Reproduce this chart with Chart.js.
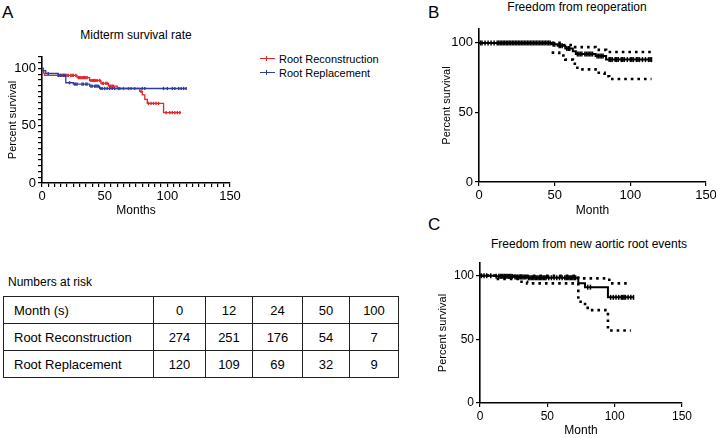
<!DOCTYPE html>
<html><head><meta charset="utf-8">
<script src="https://cdn.jsdelivr.net/npm/chart.js@4"></script>
<style>
body{margin:0;background:#fff;width:716px;height:438px;position:relative;overflow:hidden;font-family:"Liberation Sans",Arial,sans-serif;color:#000}
.t{position:absolute;white-space:nowrap;line-height:1}
canvas{position:absolute}
#risk{position:absolute;left:3px;top:296px;border-collapse:collapse;table-layout:fixed;font-size:13px}
#risk td{border:1px solid #222;height:26px;padding:0;text-align:center;white-space:nowrap}
#risk td:first-child{text-align:left;padding-left:10px}
.lg{position:absolute;height:14px;width:130px;font-size:11px;line-height:14px;white-space:nowrap}
.lg i{position:absolute;left:0;top:6px;width:15px;height:0;border-top:1.5px solid}
.lg b{position:absolute;left:6px;top:4px;width:0;height:5px;border-left:1.5px solid}
.lg span{position:absolute;left:19px;top:0;color:#000}
</style></head><body>
<div class="t" style="left:2px;top:4px;font-size:17px">A</div>
<div class="t" style="left:428px;top:4px;font-size:17px">B</div>
<div class="t" style="left:428px;top:216px;font-size:17px">C</div>
<div class="t" style="left:36px;width:200px;text-align:center;top:29px;font-size:12px">Midterm survival rate</div>
<div class="t" style="left:477px;width:200px;text-align:center;top:1px;font-size:12px">Freedom from reoperation</div>
<div class="t" style="left:489px;width:200px;text-align:center;top:238px;font-size:12px">Freedom from new aortic root events</div>
<div class="lg" style="left:260px;top:52px;color:#e3262a"><i></i><b></b><span>Root Reconstruction</span></div>
<div class="lg" style="left:260px;top:66px;color:#2d3f9c"><i></i><b></b><span>Root Replacement</span></div>
<div class="t" style="left:8px;top:276px;font-size:12px">Numbers at risk</div>
<table id="risk"></table>
<canvas id="cA" width="245" height="222" style="left:0;top:0"></canvas>
<canvas id="cB" width="280" height="222" style="left:436px;top:0"></canvas>
<canvas id="cC" width="284" height="213" style="left:432px;top:225px"></canvas>
<script>
// ---------- Panel A: Midterm survival ----------
const reconTimes = [0, 1, 2, 28, 38, 47, 53, 60, 78, 80, 82, 84, 97, 111];
const reconSurv  = [100, 96, 94, 92, 89.5, 87, 84.5, 82.5, 80, 77, 73, 69.5, 61.5, 61.5];
const reconCensor = [13,14,15,16,17,18,19,20,21,23,24,25,27,29,30,31,32,33,34,35,36,39,40,41,42,43,44,46,48,49,51,52,54,55,56,57,61,62,65,69,71,74,79,85,87,89,91,93,99,102,104,106,108,110];
const replTimes = [0, 1, 3, 13, 19, 25, 38, 46, 115];
const replSurv  = [100, 98, 95.6, 94, 87.5, 86.3, 84.5, 82.5, 82.5];
const replCensor = [5,13,15,17,18,22,26,27,28,32,33,35,36,39,40,42,43,44,45,47,48,50,52,54,56,58,80,82,97,100,104,106,109,111,113,115];

// ---------- Panel B: Freedom from reoperation ----------
const reopTimes = [0, 48, 52, 57, 62, 64, 77, 84, 114];
const reopSurv  = [100, 99, 98, 96, 94, 92, 90.5, 88, 88];
const reopUpperTimes = [48, 56, 62, 77, 84, 114];
const reopUpperSurv  = [100, 98.5, 97, 95, 93.5, 93.5];
const reopLowerTimes = [48, 53, 57, 62, 65, 77, 83, 86, 114];
const reopLowerSurv  = [93, 91, 88, 85, 81, 78.5, 76, 74, 74];
const reopCensor = [1,2,4,6,8,10,12,13,14,15,16,17,18,19,20,21,22,23,24,25,26,27,28,29,30,31,32,33,34,35,36,37,38,39,40,41,42,43,44,45,46,47,49,50,53,54,55,58,59,60,65,66,67,68,70,71,72,73,74,75,78,79,80,81,82,86,87,88,90,91,92,94,95,96,98,100,101,102,104,105,106,108,110,112,113,114];

// ---------- Panel C: Freedom from new aortic root events ----------
const rootTimes = [0, 12, 25, 35, 73, 78, 95, 114];
const rootSurv  = [100, 99.5, 99, 98.4, 94, 91, 83, 83];
const rootUpperTimes = [0, 73, 96, 112];
const rootUpperSurv  = [100, 97.9, 94, 94];
const rootLowerTimes = [0, 12, 28, 35, 73, 78, 80, 95, 112];
const rootLowerSurv  = [100, 97.5, 95.3, 94, 79.5, 76, 73, 57, 57];
const rootCensor = [1,3,5,8,12,14,15,16,17,18,19,20,21,22,23,24,26,27,28,29,30,31,32,33,34,36,37,38,39,40,41,42,43,44,45,46,47,48,49,51,53,55,57,59,61,63,64,65,66,67,68,69,70,71,80,82,97,99,101,103,105,106,107,108,110,112,114];

// ---------- Numbers at risk ----------
const riskHeader = ['Month (s)', '0', '12', '24', '50', '100'];
const riskRecon  = ['Root Reconstruction', 274, 251, 176, 54, 7];
const riskRepl   = ['Root Replacement', 120, 109, 69, 32, 9];

const xMajor = [0, 50, 100, 150];
const yMajor = [0, 50, 100];

// table
(function(){
  const widths = [150, 52, 47, 50, 47, 49];
  const tb = document.getElementById('risk');
  const cg = document.createElement('colgroup');
  widths.forEach(w => { const c = document.createElement('col'); c.style.width = w + 'px'; cg.appendChild(c); });
  tb.appendChild(cg);
  [riskHeader, riskRecon, riskRepl].forEach(row => {
    const tr = document.createElement('tr');
    row.forEach(v => { const td = document.createElement('td'); td.textContent = v; tr.appendChild(td); });
    tb.appendChild(tr);
  });
})();

Chart.defaults.font.family = "'Liberation Sans', Arial, sans-serif";
Chart.defaults.color = '#000';

function stepAt(times, surv, t) { let v = surv[0]; for (let i = 0; i < times.length; i++) if (times[i] <= t) v = surv[i]; return v; }
function pts(times, surv) { return times.map((t, i) => ({x: t, y: surv[i]})); }
function cens(ct, times, surv) { return ct.map(t => ({x: t, y: stepAt(times, surv, t)})); }

function curve(times, surv, color, w) {
  return {data: pts(times, surv), stepped: 'before', borderColor: color, borderWidth: w, pointRadius: 0, fill: false};
}
function ci(times, surv) {
  return {data: pts(times, surv), stepped: 'before', borderColor: '#000', borderWidth: 2.6, borderDash: [2.6, 4], borderCapStyle: 'butt', pointRadius: 0, fill: false};
}
function marks(ct, times, surv, color, r, w) {
  return {data: cens(ct, times, surv), showLine: false, pointStyle: 'line', pointRotation: 90, pointRadius: r, pointBorderWidth: w, borderColor: color, pointBorderColor: color};
}

function km(id, c) {
  return new Chart(document.getElementById(id), {
    type: 'line',
    data: {datasets: c.datasets},
    options: {
      responsive: false, animation: false, events: [],
      layout: {padding: c.padding},
      plugins: {legend: {display: false}, tooltip: {enabled: false}},
      scales: {
        x: {
          type: 'linear', min: 0, max: 150,
          afterBuildTicks: s => { s.ticks = c.xTicks.map(v => ({value: v})); },
          afterFit: s => { s.height = c.hx; s.paddingLeft = 0; s.paddingRight = 0; },
          ticks: {autoSkip: false, maxRotation: 0, font: {size: c.tick}, padding: c.xPad,
                  callback: v => (xMajor.includes(v) ? String(v) : '')},
          grid: {drawOnChartArea: false, drawTicks: true, tickLength: 4, color: '#000', lineWidth: 1.2},
          border: {display: true, color: '#000', width: 1.6},
          title: {display: true, text: c.xTitle, font: {size: 12}, padding: {top: 0, bottom: 0}}
        },
        y: {
          type: 'linear', min: 0, max: 110,
          afterBuildTicks: s => { s.ticks = c.yTicks.map(v => ({value: v})); },
          afterFit: s => { s.width = c.wy; s.paddingTop = 0; s.paddingBottom = 0; },
          ticks: {autoSkip: false, font: {size: c.tick}, padding: 2,
                  callback: v => (yMajor.includes(v) ? String(v) : '')},
          grid: {drawOnChartArea: false, drawTicks: true, tickLength: 4, color: '#000', lineWidth: 1.2},
          border: {display: true, color: '#000', width: 1.6},
          title: {display: true, text: 'Percent survival', font: {size: 11}, padding: {top: c.yTitlePad, bottom: 0}}
        }
      }
    }
  });
}

const every5x = []; for (let v = 0; v <= 150; v += 5) every5x.push(v);
const every5y = []; for (let v = 0; v <= 110; v += 5) every5y.push(v);

const RED = '#e3262a', BLUE = '#2d3f9c';

km('cA', {
  datasets: [
    curve(replTimes, replSurv, BLUE, 1.3),
    marks(replCensor, replTimes, replSurv, BLUE, 1.6, 1.4),
    curve(reconTimes, reconSurv, RED, 1.3),
    marks(reconCensor, reconTimes, reconSurv, RED, 1.6, 1.4)
  ],
  padding: {top: 57, left: 0, right: 15, bottom: 4},
  wy: 42, hx: 35, tick: 13, xPad: 2, yTitlePad: 6,
  xTicks: every5x, yTicks: every5y, xTitle: 'Months'
});

km('cB', {
  datasets: [
    ci(reopUpperTimes, reopUpperSurv),
    ci(reopLowerTimes, reopLowerSurv),
    curve(reopTimes, reopSurv, '#000', 2),
    marks(reopCensor, reopTimes, reopSurv, '#000', 2.5, 1.5)
  ],
  padding: {top: 29, left: 0, right: 10, bottom: 4},
  wy: 43, hx: 36, tick: 13, xPad: 2, yTitlePad: 4,
  xTicks: xMajor, yTicks: yMajor, xTitle: 'Month'
});

km('cC', {
  datasets: [
    ci(rootUpperTimes, rootUpperSurv),
    ci(rootLowerTimes, rootLowerSurv),
    curve(rootTimes, rootSurv, '#000', 2),
    marks(rootCensor, rootTimes, rootSurv, '#000', 2.5, 1.5)
  ],
  padding: {top: 38, left: 0, right: 34, bottom: 0},
  wy: 48, hx: 35, tick: 12, xPad: 2, yTitlePad: 4,
  xTicks: xMajor, yTicks: yMajor, xTitle: 'Month'
});
</script>
</body></html>
